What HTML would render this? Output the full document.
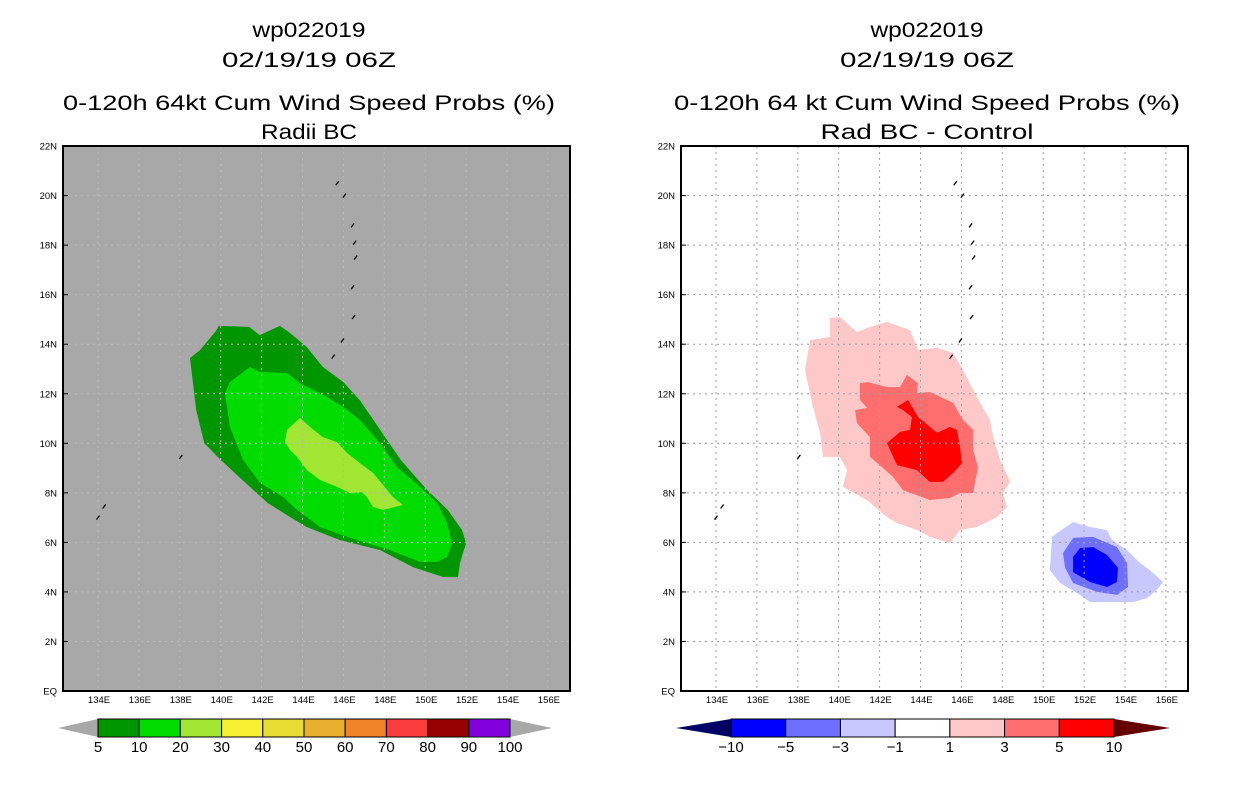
<!DOCTYPE html>
<html><head><meta charset="utf-8"><style>
html,body{margin:0;padding:0;background:#fff;}
svg{display:block;font-family:"Liberation Sans",sans-serif;}
</style></head><body>
<svg id="s" width="1236" height="800" xmlns="http://www.w3.org/2000/svg"></svg>
<script>
// ---- data ----
const lonTicks=[134,136,138,140,142,144,146,148,150,152,154,156];
const latTicks=[0,2,4,6,8,10,12,14,16,18,20,22];
const latLabels=['EQ','2N','4N','6N','8N','10N','12N','14N','16N','18N','20N','22N'];
const leftBarLabels=['5','10','20','30','40','50','60','70','80','90','100'];
const leftBarColors=['#009600','#00dc00','#a0e632','#f8f032','#e6dc32','#e6af2d','#f08228','#fa3c3c','#960000','#8200dc'];
const rightBarLabels=['-10','-5','-3','-1','1','3','5','10'];
const rightBarColors=['#0000ff','#6e6eff','#c8c8ff','#ffffff','#ffc8c8','#ff6e6e','#ff0000'];
// probability contours (lon,lat pairs)
const prob5Lon=[139.9,141.4,141.9,142.9,143.4,144.2,145.0,146.0,146.8,147.8,148.8,150.1,151.1,151.8,152.0,151.7,151.6,150.9,149.4,147.8,145.8,144.2,143.4,142.3,140.9,140.0,139.2,138.8,138.5,139.0,139.8];
const prob5Lat=[14.74,14.7,14.37,14.74,14.45,13.89,13.08,12.47,11.74,10.54,9.33,8.11,7.31,6.5,5.97,5.17,4.6,4.6,5.0,5.69,6.1,6.62,7.02,7.59,8.64,9.33,10.01,11.34,13.44,13.77,14.57];
const prob10Lon=[141.43,141.92,143.24,143.88,145.2,145.98,146.81,147.79,148.62,149.75,150.58,151.07,151.31,151.07,150.58,149.75,148.28,146.18,144.86,143.73,143.05,141.92,141.09,140.45,140.21,140.45];
const prob10Lat=[13.08,12.88,12.84,12.43,11.87,11.47,10.94,10.01,9.04,8.24,7.59,6.78,5.97,5.41,5.21,5.21,5.69,6.22,6.62,7.31,7.83,8.4,9.33,10.66,12.03,12.47];
const prob20Lon=[143.88,144.37,145.0,145.69,146.18,146.81,147.45,148.43,148.91,147.94,147.45,147.15,146.91,146.32,145.69,144.86,144.22,143.73,143.39,143.14,143.24];
const prob20Lat=[11.02,10.66,10.25,10.05,9.61,9.2,8.8,7.83,7.51,7.31,7.43,7.83,8.03,7.99,8.24,8.52,8.92,9.45,9.73,10.05,10.54];
// difference contours
const diff1Lon=[139.57,140.06,140.89,141.53,142.36,143.49,143.88,144.81,145.59,146.08,146.76,147.4,147.55,147.89,148.38,148.03,148.23,147.74,146.76,145.93,145.44,144.46,143.83,142.85,142.36,141.38,140.21,140.41,140.06,139.23,139.09,138.74,138.35,138.6,139.57];
const diff1Lat=[15.06,15.1,14.49,14.7,14.9,14.57,13.77,13.85,13.65,12.96,11.87,10.94,10.25,9.33,8.44,7.99,7.43,7.02,6.62,6.5,5.97,6.22,6.5,6.78,7.02,7.71,8.24,8.92,9.45,9.45,10.42,11.47,12.96,14.17,14.29];
const diff3Lon=[141.04,141.43,142.36,143.0,143.34,143.88,143.83,144.46,145.59,146.08,146.57,146.57,146.81,146.57,145.93,145.44,144.46,143.14,142.66,141.53,141.53,140.89,140.8,141.38,141.04];
const diff3Lat=[12.43,12.47,12.27,12.27,12.76,12.43,12.03,12.07,11.63,10.94,10.54,9.73,9.04,7.99,7.99,7.79,7.71,8.11,8.64,9.45,10.25,10.82,11.34,11.43,11.75];
const diff5Lon=[142.85,143.39,143.88,144.81,145.44,145.78,145.93,146.03,145.59,145.1,144.46,143.83,142.85,142.36,143.0,143.49,143.58,143.14];
const diff5Lat=[11.47,11.75,11.06,10.42,10.66,10.54,9.85,9.2,8.8,8.44,8.44,8.92,9.12,10.01,10.46,10.54,11.06,11.34];
const diffM1Lon=[151.46,152.29,153.12,153.36,154.1,154.73,155.22,155.86,155.56,155.08,154.39,152.29,151.65,150.82,150.33,150.43,150.67];
const diffM1Lat=[6.82,6.62,6.5,6.1,5.69,5.17,4.88,4.4,4.08,3.75,3.59,3.59,3.96,4.36,4.88,6.22,6.38];
const diffM3Lon=[151.46,152.44,153.61,154.1,154.15,153.61,152.63,151.46,151.07,150.97];
const diffM3Lat=[6.18,6.22,5.81,5.17,4.2,3.88,4.0,4.36,4.97,5.57];
const diffM5Lon=[151.8,152.44,153.12,153.66,153.61,153.12,152.29,151.46,151.46];
const diffM5Lat=[5.77,5.81,5.49,4.97,4.4,4.2,4.4,4.8,5.41];
// islands (lon,lat)
const islandLon=[145.7,146.05,146.45,146.55,146.6,146.45,146.5,145.95,145.5,138.05,134.3,134.0];
const islandLat=[20.5,20.0,18.8,18.1,17.5,16.3,15.1,14.15,13.5,9.45,7.45,7.0];

// ---- drawing ----
const NS='http://www.w3.org/2000/svg';
const svg=document.getElementById('s');
function el(tag,attrs,parent){const e=document.createElementNS(NS,tag);for(const k in attrs)e.setAttribute(k,attrs[k]);(parent||svg).appendChild(e);return e;}
const Y0=691, PXLAT=24.77, PXLON=20.45;
function yS(lat){return Y0-lat*PXLAT;}
function makeX(x134){return lon=>x134+(lon-134)*PXLON;}

function title(cx,lines,widths){
  const ys=[37,67,110,139];
  lines.forEach((t,i)=>{
    const tx=el('text',{x:cx,y:ys[i],'text-anchor':'middle','font-size':21,fill:'#000',textLength:widths[i],lengthAdjust:'spacingAndGlyphs'});
    tx.textContent=t;
    
    
  });
}
function poly(g,lons,lats,xS,fill,name){
  const p=lons.map((lo,i)=>xS(lo).toFixed(1)+','+yS(lats[i]).toFixed(1)).join(' ');
  const e=el('polygon',{points:p,fill:fill},g);
  
  
}
function panel(x0,x134,bg,polys,name){
  const xS=makeX(x134);
  const g=el('g',{});
  
  
  el('rect',{x:x0,y:146,width:507,height:545,fill:bg},g);
  polys.forEach(p=>poly(g,p[0],p[1],xS,p[2],p[3]));
  const gc=bg==='#fff'?'#a0a0a0':'#b8b8b8';
  lonTicks.forEach(lo=>{const x=xS(lo);const l=el('line',{x1:x,y1:146,x2:x,y2:691,stroke:gc,'stroke-width':1,'stroke-dasharray':'2,4'},g);
    });
  latTicks.slice(1,-1).forEach(la=>{const y=yS(la);const l=el('line',{x1:x0,y1:y,x2:x0+507,y2:y,stroke:gc,'stroke-width':1,'stroke-dasharray':'2,4'},g);
    });
  islandLon.forEach((lo,i)=>{const e=el('path',{d:`M${xS(lo)-1.5},${yS(islandLat[i])+2} l3,-4`,stroke:'#000','stroke-width':1.3,fill:'none'},g);
    });
  const fr=el('rect',{x:x0,y:146,width:507,height:545,fill:'none',stroke:'#000','stroke-width':2},g);
  
  latTicks.forEach((la,i)=>{const y=yS(la);
    el('line',{x1:x0,y1:y,x2:x0+5,y2:y,stroke:'#000','stroke-width':1},g);
    const t=el('text',{x:x0-6,y:y+3.5,'text-anchor':'end','font-size':9.5,fill:'#000'},g);t.textContent=latLabels[i];
    });
  lonTicks.forEach(lo=>{const x=xS(lo);
    const t=el('text',{x:x+1,y:703,'text-anchor':'middle','font-size':9.5,fill:'#000'},g);t.textContent=lo+'E';
    });
}
function colorbar(xL,xs,xe,xR,colors,labels,triL,triR,name){
  const g=el('g',{});
  
  
  const t1=el('polygon',{points:`${xL},728 ${xs},719 ${xs},737`,fill:triL},g);
  
  const t2=el('polygon',{points:`${xR},728 ${xe},719 ${xe},737`,fill:triR},g);
  
  const w=(xe-xs)/colors.length;
  colors.forEach((c,i)=>{const r=el('rect',{x:xs+i*w,y:719,width:w,height:18,fill:c,stroke:'#000','stroke-width':1},g);
    });
  labels.forEach((l,i)=>{const t=el('text',{x:xs+i*w,y:752,'text-anchor':'middle','font-size':15,fill:'#000'},g);t.textContent=l.replace('-','\u2212');
    });
}
title(309,['wp022019','02/19/19 06Z','0-120h 64kt Cum Wind Speed Probs (%)','Radii BC'],[113,174,492,96]);
title(927,['wp022019','02/19/19 06Z','0-120h 64 kt Cum Wind Speed Probs (%)','Rad BC - Control'],[113,174,506,213]);
panel(63,98,'#a8a8a8',[[prob5Lon,prob5Lat,'#009600','prob-5-contour'],[prob10Lon,prob10Lat,'#00dc00','prob-10-contour'],[prob20Lon,prob20Lat,'#a0e632','prob-20-contour']],'left-map-panel');
panel(681,716,'#fff',[[diff1Lon,diff1Lat,'#ffc8c8','diff-1-contour'],[diff3Lon,diff3Lat,'#ff6e6e','diff-3-contour'],[diff5Lon,diff5Lat,'#ff0000','diff-5-contour'],[diffM1Lon,diffM1Lat,'#c8c8ff','diff-neg1-contour'],[diffM3Lon,diffM3Lat,'#6e6eff','diff-neg3-contour'],[diffM5Lon,diffM5Lat,'#0000ff','diff-neg5-contour']],'right-map-panel');
colorbar(58,98,510,552,leftBarColors,leftBarLabels,'#a8a8a8','#a8a8a8','left-colorbar');
colorbar(676,731,1114,1170,rightBarColors,rightBarLabels,'#000064','#640000','right-colorbar');
</script>
</body></html>
